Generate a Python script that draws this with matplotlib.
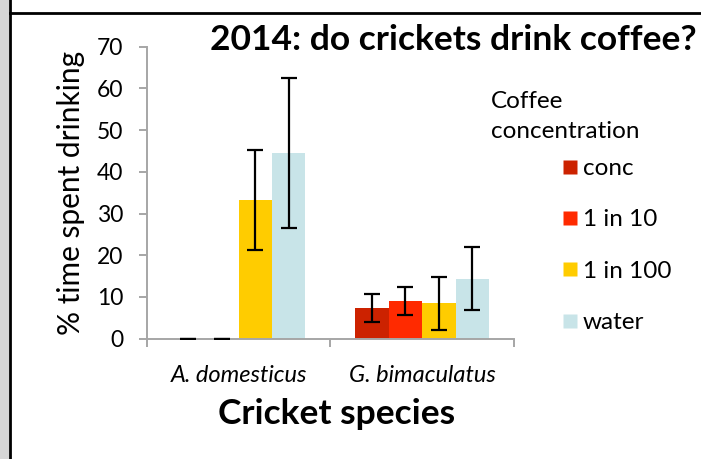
import matplotlib
matplotlib.use("Agg")
import matplotlib.pyplot as plt
from matplotlib.lines import Line2D
from matplotlib.patches import Rectangle
import numpy as np

plt.rcParams['font.family'] = ['Lato', 'DejaVu Sans']

species = ["A. domesticus", "G. bimaculatus"]
concentrations = ["conc", "1 in 10", "1 in 100", "water"]
colors = ["#cc2200", "#ff2a00", "#ffcc00", "#c8e4e8"]

# mean % time spent drinking, one list per coffee concentration (A. domesticus, G. bimaculatus)
conc_mean = [0.0, 7.3]
in10_mean = [0.0, 9.0]
in100_mean = [33.3, 8.5]
water_mean = [44.5, 14.4]

conc_err = [0.0, 3.3]
in10_err = [0.0, 3.3]
in100_err = [12.0, 6.3]
water_err = [18.0, 7.6]

means = [conc_mean, in10_mean, in100_mean, water_mean]
errs = [conc_err, in10_err, in100_err, water_err]

W, H = 701, 459
fig = plt.figure(figsize=(W / 100, H / 100), dpi=100)

# window frame
fig.patches.append(Rectangle((0, 0), 9 / W, 1, transform=fig.transFigure,
                             facecolor="#d6d6d6", edgecolor="none", zorder=0))
fig.add_artist(Line2D([10 / W, 10 / W], [0, 1], transform=fig.transFigure,
                      color="black", lw=2))
fig.add_artist(Line2D([10 / W, 1], [1 - 12.5 / H, 1 - 12.5 / H], transform=fig.transFigure,
                      color="black", lw=2))

ax = fig.add_axes([146.7 / W, 120.3 / H, 367.3 / W, 292 / H])

x = np.arange(len(species))
bw = 0.182
offsets = (np.arange(4) - 1.5) * bw
for i in range(4):
    ax.bar(x + offsets[i], means[i], width=bw, color=colors[i], label=concentrations[i], zorder=2)
    ax.errorbar(x + offsets[i], means[i], yerr=errs[i], fmt="none", ecolor="black",
                elinewidth=1.6, capsize=6, capthick=1.6, zorder=3)

ax.set_xlim(-0.5, 1.5)
ax.set_ylim(0, 70)
ax.set_yticks(np.arange(0, 71, 10))

axis_gray = "#a6a6a6"
for s in ["top", "right"]:
    ax.spines[s].set_visible(False)
for s in ["left", "bottom"]:
    ax.spines[s].set_color(axis_gray)
    ax.spines[s].set_linewidth(1.4)

ax.tick_params(axis="y", direction="out", length=6, width=1.4, color=axis_gray,
               labelsize=16.5, pad=11)
ax.set_xticks(x)
ax.set_xticklabels(species, fontstyle="italic", fontsize=17)
ax.tick_params(axis="x", which="major", length=0, pad=19)
ax.set_xticks([-0.5, 0.5, 1.5], minor=True)
ax.tick_params(axis="x", which="minor", direction="out", length=6, width=1.4, color=axis_gray)

ax.set_ylabel("% time spent drinking", fontsize=21.5, ha="center", va="center")
ax.yaxis.set_label_coords((71 - 146.7) / 367.3, (338.7 - 193) / 292)
ax.set_xlabel("Cricket species", fontsize=25.5, fontweight="bold")
ax.xaxis.set_label_coords((337 - 146.7) / 367.3, (338.7 - 414) / 292)
ax.xaxis.label.set_va("center")

fig.text(453 / W, 1 - 40 / H, "2014: do crickets drink coffee?", fontsize=25.5,
         fontweight="bold", ha="center", va="center")

fig.text(491 / W, 1 - 101 / H, "Coffee", fontsize=17.5, ha="left", va="center")
fig.text(491 / W, 1 - 131 / H, "concentration", fontsize=17.5, ha="left", va="center")

handles = [Line2D([], [], marker="s", linestyle="none", markersize=10.5,
                  markerfacecolor=c, markeredgecolor="none") for c in colors]
fig.legend(handles, concentrations, loc="upper left",
           bbox_to_anchor=(560 / W, 1 - 158 / H), frameon=False, fontsize=17.5,
           handlelength=0.8, handletextpad=0.15, labelspacing=1.25, borderpad=0,
           borderaxespad=0)

fig.savefig("out.png", dpi=100)
